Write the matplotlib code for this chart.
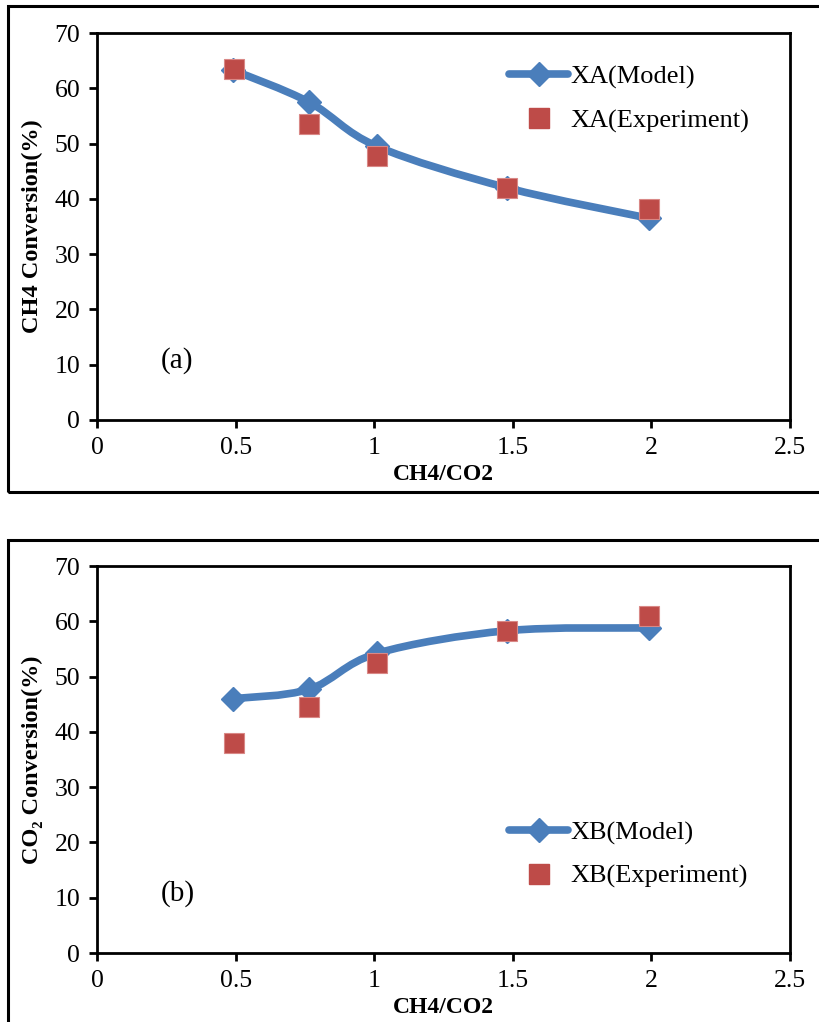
"""CH4 / CO2 conversion vs feed ratio: model (smoothed line) vs experiment."""
import numpy as np
import matplotlib
matplotlib.use("Agg")
import matplotlib.pyplot as plt
from matplotlib.path import Path
from matplotlib.patches import PathPatch, Rectangle

plt.rcParams["font.family"] = ["Liberation Serif", "DejaVu Serif"]

# ---- data ----
ratio_model = [0.49, 0.765, 1.01, 1.48, 1.99]
ratio_exp = [0.495, 0.765, 1.01, 1.48, 1.99]

xa_model = [63.3, 57.5, 49.5, 42.0, 36.5]
xa_exp = [63.4, 53.5, 47.8, 42.0, 38.2]

xb_model = [46.0, 47.7, 54.2, 58.3, 58.8]
xb_exp = [38.0, 44.5, 52.5, 58.2, 61.0]

BLUE = "#4A7EBB"
RED = "#BE4B48"


def smooth_path(x, y):
    """Excel-style smoothed line: cubic Bezier through the points."""
    p = np.column_stack([x, y]).astype(float)
    ext = np.vstack([p[0], p, p[-1]])
    verts = [p[0]]
    codes = [Path.MOVETO]
    for i in range(len(p) - 1):
        p0, p1, p2, p3 = ext[i], ext[i + 1], ext[i + 2], ext[i + 3]
        verts += [p1 + (p2 - p0) / 6, p2 - (p3 - p1) / 6, p2]
        codes += [Path.CURVE4] * 3
    return Path(verts, codes)


def panel(ax, x_m, y_m, x_e, y_e, name, ylabel, tag, leg_loc):
    ax.add_patch(PathPatch(smooth_path(x_m, y_m), transform=ax.transData,
                           fill=False, edgecolor=BLUE, lw=5.5,
                           capstyle="round", zorder=2))
    ax.plot(x_m, y_m, ls="none", marker="D", ms=12, color=BLUE, zorder=3)
    ax.plot(x_e, y_e, ls="none", marker="s", ms=14, color=RED,
            markeredgecolor="#D98886", markeredgewidth=0.8, zorder=4)
    # proxy artists for the legend
    h1, = ax.plot([], [], color=BLUE, lw=5.5, marker="D", ms=12,
                  solid_capstyle="round", label=f"{name}(Model)")
    h2, = ax.plot([], [], ls="none", marker="s", ms=14, color=RED,
                  label=f"{name}(Experiment)")
    ax.legend(handles=[h1, h2], loc=leg_loc, frameon=False, fontsize=19,
              handlelength=2.2, handletextpad=0.1, labelspacing=0.75,
              borderaxespad=0.3)

    ax.set_xlim(0, 2.5)
    ax.set_ylim(0, 70)
    ax.set_xticks([0, 0.5, 1, 1.5, 2, 2.5])
    ax.set_xticklabels(["0", "0.5", "1", "1.5", "2", "2.5"])
    ax.set_yticks(range(0, 71, 10))
    ax.tick_params(labelsize=18.5, width=2, length=6, direction="out", pad=6)
    for s in ax.spines.values():
        s.set_linewidth(2)
    ax.set_xlabel("CH4/CO2", fontsize=17, fontweight="bold", labelpad=4)
    ax.set_ylabel(ylabel, fontsize=17.5, fontweight="bold", labelpad=8)
    ax.text(0.092, 0.135, tag, transform=ax.transAxes, fontsize=21)


fig = plt.figure(figsize=(8.2, 10.22), dpi=100)

# outer frames around each panel
fig.patches.append(Rectangle((8 / 820, 1 - 492 / 1022), 1.0, 486 / 1022,
                             transform=fig.transFigure, fill=False,
                             lw=2.2, edgecolor="black"))
fig.patches.append(Rectangle((8 / 820, -0.05), 1.0, 0.05 + 482 / 1022,
                             transform=fig.transFigure, fill=False,
                             lw=2.2, edgecolor="black"))

ax1 = fig.add_axes([97 / 820, 1 - 420 / 1022, 693 / 820, 387 / 1022])
ax2 = fig.add_axes([97 / 820, 1 - 953 / 1022, 693 / 820, 387 / 1022])

panel(ax1, ratio_model, xa_model, ratio_exp, xa_exp, "XA",
      "CH4 Conversion(%)", "(a)", (0.58, 0.715))
panel(ax2, ratio_model, xb_model, ratio_exp, xb_exp, "XB",
      "CO\u2082 Conversion(%)", "(b)", (0.58, 0.14))

fig.savefig("out.png", dpi=100)
